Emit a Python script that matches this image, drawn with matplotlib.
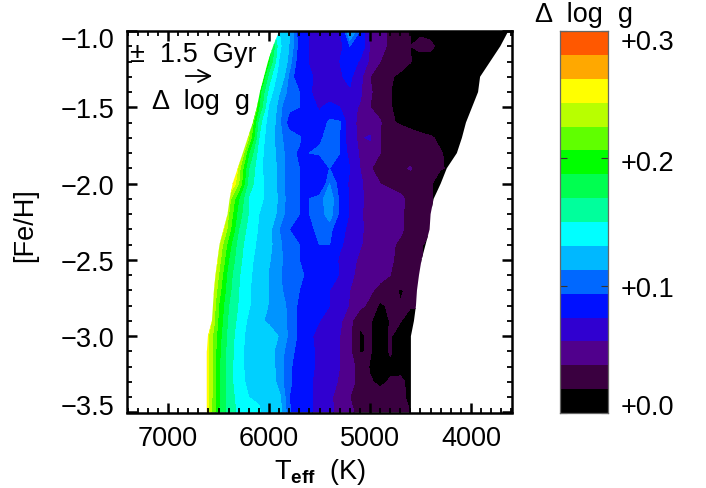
import numpy as np
import matplotlib
matplotlib.use("Agg")
import matplotlib.pyplot as plt
from matplotlib.patches import Polygon
from matplotlib.colors import ListedColormap, BoundaryNorm
from matplotlib.transforms import ScaledTranslation

plt.rcParams['font.family'] = ['Liberation Sans', 'DejaVu Sans']
plt.rcParams['mathtext.fontset'] = 'custom'
plt.rcParams['mathtext.rm'] = 'Liberation Sans'
plt.rcParams['mathtext.bf'] = 'Liberation Sans:bold'

STEP = 0.3 / 16          # one colour-bar band in dex
BLACK = 0.4              # value (in bands) of the cool black area

teff = list(range(6700, 3500, -100))
feh = [-1.0, -1.1, -1.2, -1.3, -1.4, -1.5, -1.6, -1.7, -1.8, -1.9, -2.0, -2.1, -2.2,
       -2.3, -2.4, -2.5, -2.6, -2.7, -2.8, -2.9, -3.0, -3.1, -3.2, -3.3, -3.4, -3.5]

# hot edge and cool edge of the covered area, one per [Fe/H] row
hot_edge = [5900, 5960, 6010, 6050, 6090, 6120, 6160, 6210, 6260, 6310, 6360, 6390, 6410,
            6450, 6490, 6510, 6530, 6545, 6555, 6565, 6605, 6615, 6615, 6615, 6615, 6615]
cool_edge = [3630, 3710, 3810, 3910, 3930, 3990, 4050, 4090, 4140, 4240, 4300, 4370, 4400,
             4410, 4450, 4490, 4515, 4535, 4545, 4565, 4595, 4595, 4595, 4595, 4595, 4595]

# Delta log g in colour-bar bands, columns follow teff (6700 K downwards)
rows = [
 [18,18,18,18,18,18,18, 9, 7.0,5.9,4.7,3.9,3.5,3.5,4.0,6.0,5.0,3.0,2.3,1.8,1.4,1.0,.8,.5],
 [18,18,18,18,18,18,18,11, 7.3,5.8,4.8,3.9,3.5,3.5,3.5,5.0,5.0,2.9,2.3,1.8,1.4,1.0,1.3,1.3,.5],
 [18,18,18,18,18,18,13,10, 6.9,5.6,4.7,3.9,3.5,3.5,4.0,4.9,3.8,2.8,2.0,1.7,1.4,1.05,.5],
 [18,18,18,18,18,18,12,8.5, 6.4,5.3,4.6,4.2,3.6,3.2,3.9,4.2,3.3,2.0,1.6,1.1,.8],
 [18,18,18,18,18,16,10.5,7.6, 5.9,5.2,5.0,4.1,3.6,3.4,3.9,3.9,3.2,2.1,1.6,1.05],
 [18,18,18,18,18,15,10,6.8, 5.5,5.1,5.0,4.3,3.9,4.3,4.0,3.3,2.9,2.0,1.6,1.1,.5],
 [18,18,18,18,18,13,8.5,6.4, 5.5,4.8,4.3,4.2,4.3,5.2,5.1,3.3,2.8,2.5,2.1,1.1,.9,.7,.4],
 [18,18,18,18,18,12,8,6.2, 5.5,5.2,5.1,4.5,4.9,5.2,5.0,3.2,2.9,3.1,2.0,1.7,1.5,1.4,1.3,1.1,.8,.6,.6],
 [18,18,18,18,14,10,7.5,6.3, 5.6,5.2,4.9,5.0,5.1,5.2,5.0,3.6,2.9,2.5,2.0,1.6,1.5,1.4,1.3,1.15,1.05,.8,.6],
 [18,18,18,18,12.5,9,7.3,6.5, 5.6,5.2,5.0,4.7,4.2,5.0,5.0,4.0,3.0,2.1,1.5,1.6,1.7,2.1,1.4,1.3,1.05,.9],
 [18,18,18,15,12,8.5,7.4,6.5, 5.6,5.2,5.0,4.8,4.3,5.4,4.8,3.8,3.2,2.5,2.0,1.5,1.4,1.3,1.2,1.1],
 [18,18,18,12.5,10,7.9,7.3,6.6, 5.7,5.2,5.0,5.0,5.2,5.7,4.9,3.9,3.2,2.6,2.9,2.9,2.3,1.6,1.3,1.1],
 [18,18,18,12,9.5,7.9,7.0,6.4, 5.6,5.2,5.0,5.0,5.2,5.6,4.9,3.9,3.2,2.5,2.9,2.9,2.2,1.6,1.3,1.1],
 [18,18,14.5,11.5,9,7.6,6.9,6.0, 5.4,5.0,4.9,4.9,5.1,5.2,4.4,3.7,3.2,2.6,2.9,2.7,2.2,1.6,1.3,1.15],
 [18,18,13,10.5,8.5,7.4,6.8,6.0, 5.5,5.1,5.0,5.0,5.0,5.0,4.2,3.5,3.1,2.6,2.4,2.2,1.8,1.5,1.2],
 [18,18,12.5,10,8.3,7.3,6.6,5.9, 5.5,5.2,5.0,4.6,4.3,4.9,3.8,3.4,2.8,3.0,2.3,2.1,1.8,1.4,1.1],
 [18,15,12,9.5,8.1,7.2,6.5,5.8, 5.5,5.0,5.3,4.6,4.3,4.7,3.9,3.2,2.7,3.0,2.4,2.0,1.9,1.4,1.0],
 [18,14.5,11.5,9.3,8,7.1,6.4,5.8, 5.5,5.2,5.0,4.5,4.2,4.0,3.7,3.0,2.5,2.2,1.6,1.4,.9,1.2,1.05],
 [18,14,11,9,7.9,7.1,6.3,5.8, 5.6,5.3,4.9,4.3,4.1,4.0,3.6,2.9,2.3,1.7,.8,1.2,1.05,1.1,1.1],
 [18,14,10.8,8.8,7.7,6.8,6.0,5.7, 5.7,5.3,4.9,4.2,4.0,4.0,3.2,2.3,1.1,1.1,.5,1.05,1.05,.5,.5],
 [18,13,10.5,8.6,7.5,6.6,6.0,6.3, 5.8,5.3,4.9,4.1,3.8,4.0,3.0,2.2,.9,1.1,.5,1.1,.5,.5],
 [18,13,10.3,8.5,7.4,6.6,6.2,6.1, 5.6,5.2,4.8,4.2,3.8,4.0,3.0,2.2,.9,1.1,.4,1.1,.5,.4],
 [18,13,10.2,8.5,7.3,6.7,6.5,6.2, 5.6,5.1,4.7,4.2,3.8,3.9,3.0,2.3,1.7,.9,.7,.8,.4,.4],
 [18,13,10.2,8.5,7.3,6.8,6.6,6.4, 5.6,5.1,4.7,4.2,3.5,3.3,2.9,2.2,1.8,1.1,.8,1.1,1.4,.5],
 [18,13,10.2,8.5,7.6,7.0,6.9,6.6, 6.0,5.0,4.6,4.2,3.5,3.2,2.5,2.0,1.7,1.1,1.4,1.1,1.5,.5],
 [18,13,10,8.5,7.8,7.2,7.1,6.5, 6.1,5.1,4.5,4.1,3.8,3.3,2.6,2.3,1.6,1.4,1.6,1.2,1.7,1.0],
]

bar_colors = ['#000000', '#3a0040', '#50008c', '#3000d0', '#0010ff', '#0068ff', '#00b8ff', '#00ffff',
              '#00ff9c', '#00ff50', '#00ff00', '#60ff00', '#b8ff00', '#ffff00', '#ffa800', '#ff5800']
plot_colors = bar_colors[:5] + ['#0062ff', '#0094ff', '#00d0ff'] + bar_colors[7:]
plot_bands = [0, 1, 2, 3, 4, 5, 5.4, 5.85, 7, 8, 9, 10, 11, 12, 13, 14, 15, 16]

x_ticks = [7000, 6000, 5000, 4000]
y_ticks = [-1.0, -1.5, -2.0, -2.5, -3.0, -3.5]
bar_ticks = [0.0, 0.1, 0.2, 0.3]

Z = np.array([r + [BLACK] * (len(teff) - len(r)) for r in rows]) * STEP
levels = np.array(plot_bands) * STEP

W, H = 706, 489
FS = 19.5
fig = plt.figure(figsize=(W / 100, H / 100), dpi=100)
ax = fig.add_axes([127 / W, 1 - 413.5 / H, (512 - 127) / W, (413.5 - 32) / H])

cs = ax.contourf(teff, feh, Z, levels=levels, colors=plot_colors, extend='max', antialiased=False)
clip = Polygon(list(zip(hot_edge, feh)) + list(zip(cool_edge[::-1], feh[::-1])),
               closed=True, transform=ax.transData)
cs.set_clip_path(clip)


def shift_label(label, px):
    """Move a tick label vertically by px figure pixels (positive is up)."""
    label.set_transform(label.get_transform() + ScaledTranslation(0, px / 100, fig.dpi_scale_trans))


ax.set_xlim(7406, 3594)
ax.set_ylim(-3.5, -1.0)
ax.set_xticks(x_ticks)
ax.set_xticks(np.arange(7400, 3500, -100), minor=True)
ax.set_yticks(y_ticks)
ax.set_yticks(np.arange(-3.5, -0.95, 0.1), minor=True)
ax.set_yticklabels(['\u2212%.1f' % abs(v) for v in y_ticks])
ax.tick_params(which='major', direction='in', top=True, right=True, length=7, width=1.8, labelsize=FS, pad=9)
ax.tick_params(which='minor', direction='in', top=True, right=True, length=3.5, width=1.3)
labs = ax.get_yticklabels()
shift_label(labs[0], -6)
shift_label(labs[-1], 8)
for s in ax.spines.values():
    s.set_linewidth(1.8)

fig.text(320 / W, 1 - 472 / H, 'T$_{\\mathbf{eff}}$  (K)', ha='center', va='center', fontsize=FS)
fig.text(25 / W, 1 - 225 / H, '[Fe/H]', ha='center', va='center', rotation=90, fontsize=FS)

fig.text(130 / W, 1 - 55 / H, '\u00b1  1.5  Gyr', ha='left', va='center', fontsize=FS)
fig.text(152 / W, 1 - 102 / H, '\u0394  log  g', ha='left', va='center', fontsize=FS)
ax.annotate('', xy=(215 / W, 1 - 77 / H), xytext=(183 / W, 1 - 77 / H),
            xycoords='figure fraction', textcoords='figure fraction',
            arrowprops=dict(arrowstyle='->', lw=1.3, color='black', mutation_scale=22))

cax = fig.add_axes([560 / W, 1 - 414 / H, (608 - 560) / W, (414 - 32) / H])
edges = np.arange(17) * STEP
cax.pcolormesh([0, 1], edges, np.arange(16)[:, None],
               cmap=ListedColormap(bar_colors), norm=BoundaryNorm(np.arange(17) - 0.5, 16))
cax.set_xticks([])
cax.set_ylim(0, 0.3)
cax.set_yticks(bar_ticks)
cax.set_yticklabels(['+%.1f' % v for v in bar_ticks])
cax.yaxis.tick_right()
cax.tick_params(axis='y', direction='in', left=True, right=True, length=5, width=0.8,
                labelsize=FS, pad=9, color='#333333')
bl = cax.get_yticklabels()
shift_label(bl[0], 9)
shift_label(bl[2], -2)
shift_label(bl[3], -8)
for s in cax.spines.values():
    s.set_linewidth(0.9)
    s.set_color('#666666')
fig.text(584 / W, 1 - 15 / H, '\u0394  log  g', ha='center', va='center', fontsize=FS)

fig.savefig('out.png', dpi=100)
